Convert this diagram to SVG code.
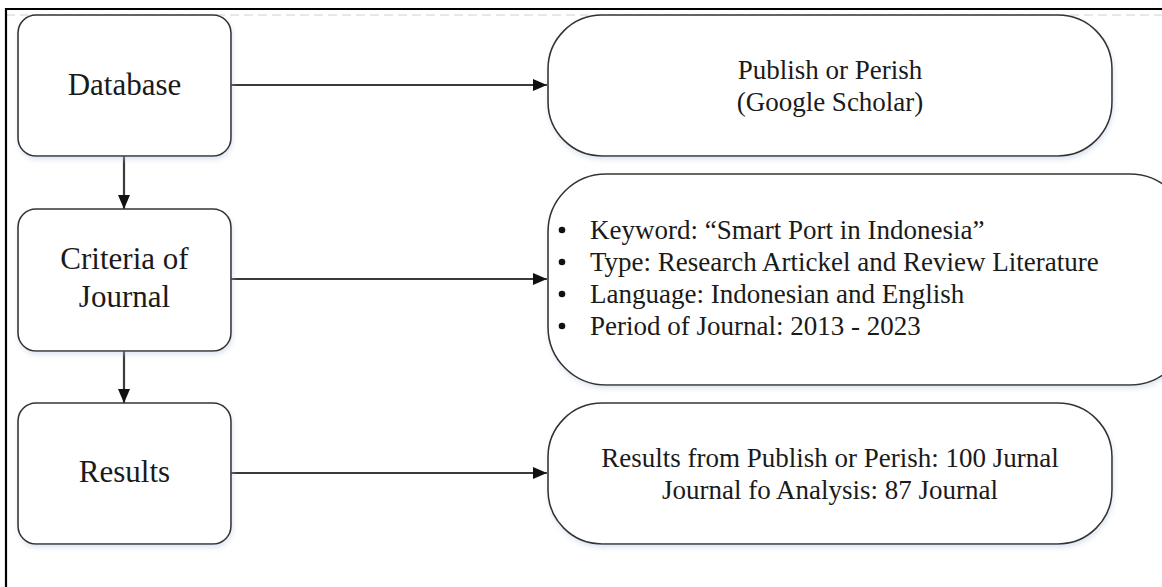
<svg xmlns="http://www.w3.org/2000/svg" width="1162" height="587" viewBox="0 0 1162 587">
<style>
.box{fill:#ffffff;stroke:#333333;stroke-width:1.6;filter:url(#sh)}
.lt{font-family:"Liberation Serif","Times New Roman",serif;font-size:31px;fill:#1a1a1a;text-anchor:middle}
.rt{font-family:"Liberation Serif","Times New Roman",serif;font-size:27px;fill:#1a1a1a}
.c{text-anchor:middle}
.ar{stroke:#3a3a3a;stroke-width:2.2;fill:none;marker-end:url(#ah)}
</style>
<defs>
<filter id="sh" x="-10%" y="-10%" width="120%" height="130%">
<feDropShadow dx="1" dy="3" stdDeviation="2.5" flood-color="#b8c8e0" flood-opacity="0.45"/>
</filter>
<marker id="ah" markerUnits="userSpaceOnUse" markerWidth="14" markerHeight="12" refX="14" refY="6" orient="auto">
<path d="M0,0 L14,6 L0,12 Z" fill="#111111"/>
</marker>
</defs>
<rect x="0" y="0" width="1162" height="587" fill="#ffffff"/>
<g id="frame">
<line x1="6" y1="15" x2="1162" y2="15" stroke="#d0d0d0" stroke-width="1" stroke-dasharray="9,5"/>
<line x1="5" y1="9" x2="1162" y2="9" stroke="#000" stroke-width="2.2"/>
<line x1="6" y1="8" x2="6" y2="587" stroke="#000" stroke-width="2.2"/>
</g>
<g id="connectors">
<line class="ar" x1="231" y1="85" x2="547" y2="85"/>
<line class="ar" x1="231" y1="279" x2="547" y2="279"/>
<line class="ar" x1="231" y1="473" x2="547" y2="473"/>
<line class="ar" x1="124" y1="156" x2="124" y2="209"/>
<line class="ar" x1="124" y1="351" x2="124" y2="403"/>
</g>
<g id="database">
<rect class="box" x="18" y="15" width="213" height="141" rx="18"/>
<text class="lt" x="124.5" y="95">Database</text>
</g>
<g id="criteria">
<rect class="box" x="18" y="209" width="213" height="142" rx="18"/>
<text class="lt" x="124.5" y="269">Criteria of</text>
<text class="lt" x="124.5" y="307">Journal</text>
</g>
<g id="results">
<rect class="box" x="18" y="403" width="213" height="141" rx="18"/>
<text class="lt" x="124.5" y="482">Results</text>
</g>
<g id="publish">
<rect class="box" x="548" y="15" width="564" height="141" rx="54"/>
<text class="rt c" x="830" y="79">Publish or Perish</text>
<text class="rt c" x="830" y="111">(Google Scholar)</text>
</g>
<g id="criteria-detail">
<rect class="box" x="548" y="174" width="640" height="211" rx="58"/>
<circle cx="562" cy="230" r="3.3" fill="#111"/>
<circle cx="562" cy="262" r="3.3" fill="#111"/>
<circle cx="562" cy="294" r="3.3" fill="#111"/>
<circle cx="562" cy="326" r="3.3" fill="#111"/>
<text class="rt" x="590" y="239">Keyword: “Smart Port in Indonesia”</text>
<text class="rt" x="590" y="271">Type: Research Artickel and Review Literature</text>
<text class="rt" x="590" y="303">Language: Indonesian and English</text>
<text class="rt" x="590" y="335">Period of Journal: 2013 - 2023</text>
</g>
<g id="results-detail">
<rect class="box" x="548" y="403" width="564" height="141" rx="54"/>
<text class="rt c" x="830" y="467">Results from Publish or Perish: 100 Jurnal</text>
<text class="rt c" x="830" y="499">Journal fo Analysis: 87 Journal</text>
</g>
</svg>
